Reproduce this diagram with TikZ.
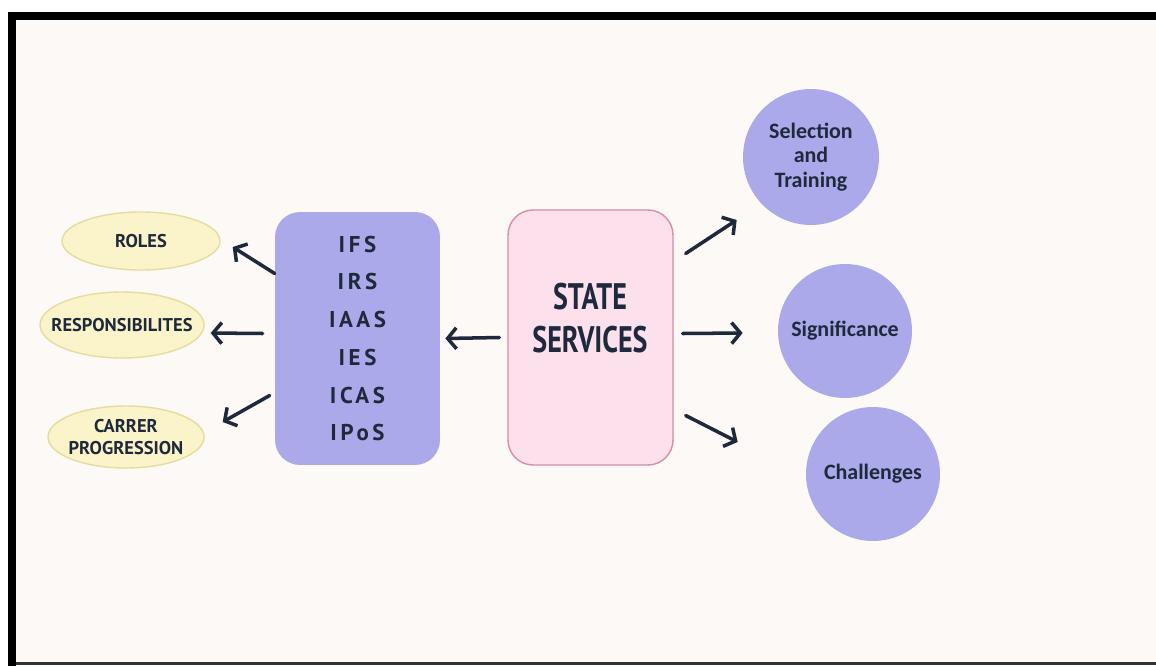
\documentclass[tikz,border=0pt]{standalone}
\usepackage{fontspec}
\setmainfont{PT Sans}
\newfontfamily\spaced[LetterSpace=16]{PT Sans}
\newfontfamily\hand{Carlito}
\usepackage{graphicx}
\usetikzlibrary{arrows.meta,calc,shapes.geometric}
\definecolor{bg}{HTML}{FDF9F6}
\definecolor{ink}{HTML}{1E2A3C}
\definecolor{lav}{HTML}{ABA9E9}
\definecolor{cream}{HTML}{FBF3C9}
\definecolor{creamline}{HTML}{E6DCA0}
\definecolor{pinkf}{HTML}{FCE1EC}
\definecolor{pinkline}{HTML}{D88BAA}
\newcommand{\nar}[1]{\scalebox{.76}[1]{#1}}
\newcommand{\zw}[1]{\makebox[0pt]{#1}}

\begin{document}
\begin{tikzpicture}[x=.02cm,y=-.02cm,
oval/.style={ellipse,draw=creamline,fill=cream,line width=.8pt,inner sep=0,text=ink,align=center,font=\bfseries\fontsize{10.5}{12}\selectfont},
box/.style={rectangle,rounded corners=.5cm,inner sep=0,minimum width=3.3cm},
blob/.style={circle,fill=lav,inner sep=0,text=ink,align=center,font=\hand\bfseries\fontsize{12.5}{14}\selectfont},
arr/.style={-{Straight Barb[length=5pt,width=12pt]},line width=2pt,draw=ink,line cap=round}]
\useasboundingbox(0,0)rectangle(1156,666);
\fill[white](0,0)rectangle(1156,666);
\fill[bg](16,20)rectangle(1156,663);
\fill[black](8,12)rectangle(16,666);\fill[black](8,12)rectangle(1156,20);
\fill[black!80](16,662)rectangle(1156,665);
% left side
\node[oval,minimum width=3.16cm,minimum height=1.16cm](rl)at(141,241){\zw{ROLES}};
\node[oval,minimum width=3.28cm,minimum height=1.32cm](rs)at(122,325){\zw{RESPONSIBILITES}};
\node[oval,minimum width=3.12cm,minimum height=1.24cm](cp)at(126,437){\zw{CARRER}\\\zw{PROGRESSION}};
\node[box,fill=lav,minimum height=5.06cm,text=ink,align=center,font=\spaced\bfseries\fontsize{13}{21.5}\selectfont](pur)at(357.5,338.5){IFS\\IRS\\IAAS\\IES\\ICAS\\IPoS};
% centre
\node[box,fill=pinkf,draw=pinkline,line width=.8pt,minimum height=5.1cm](st)at(590.5,337.5){};
\node[text=ink,align=center,font=\bfseries\fontsize{21}{24}\selectfont](stt)at(590,318){\nar{STATE}\\\nar{SERVICES}};
% right side
\node[blob,minimum size=2.72cm](c1)at(811,157){Selection\\and\\Training};
\node[blob,minimum size=2.68cm](c2)at(845,331){Significance};
\node[blob,minimum size=2.68cm](c3)at(873,474){Challenges};
\draw[arr]($(st.west)+(-8,0)$)--($(pur.east)+(5,0)$);
\draw[arr]($(pur.west)+(0,-65)$)--($(rl.east)+(12,6)$);
\draw[arr]($(pur.west)+(-12,-5)$)--($(rs.east)+(6,8)$);
\draw[arr]($(pur.west)+(-5,57)$)--($(cp.east)+(18,-15)$);
\draw[arr]($(st.east)+(12,-84)$)--($(c1.west)+(-6,63)$);
\draw[arr]($(st.east)+(9,-4)$)--($(c2.west)+(-35,2)$);
\draw[arr]($(st.east)+(12,78)$)--($(c3.west)+(-68,-32)$);
\end{tikzpicture}
\end{document}
